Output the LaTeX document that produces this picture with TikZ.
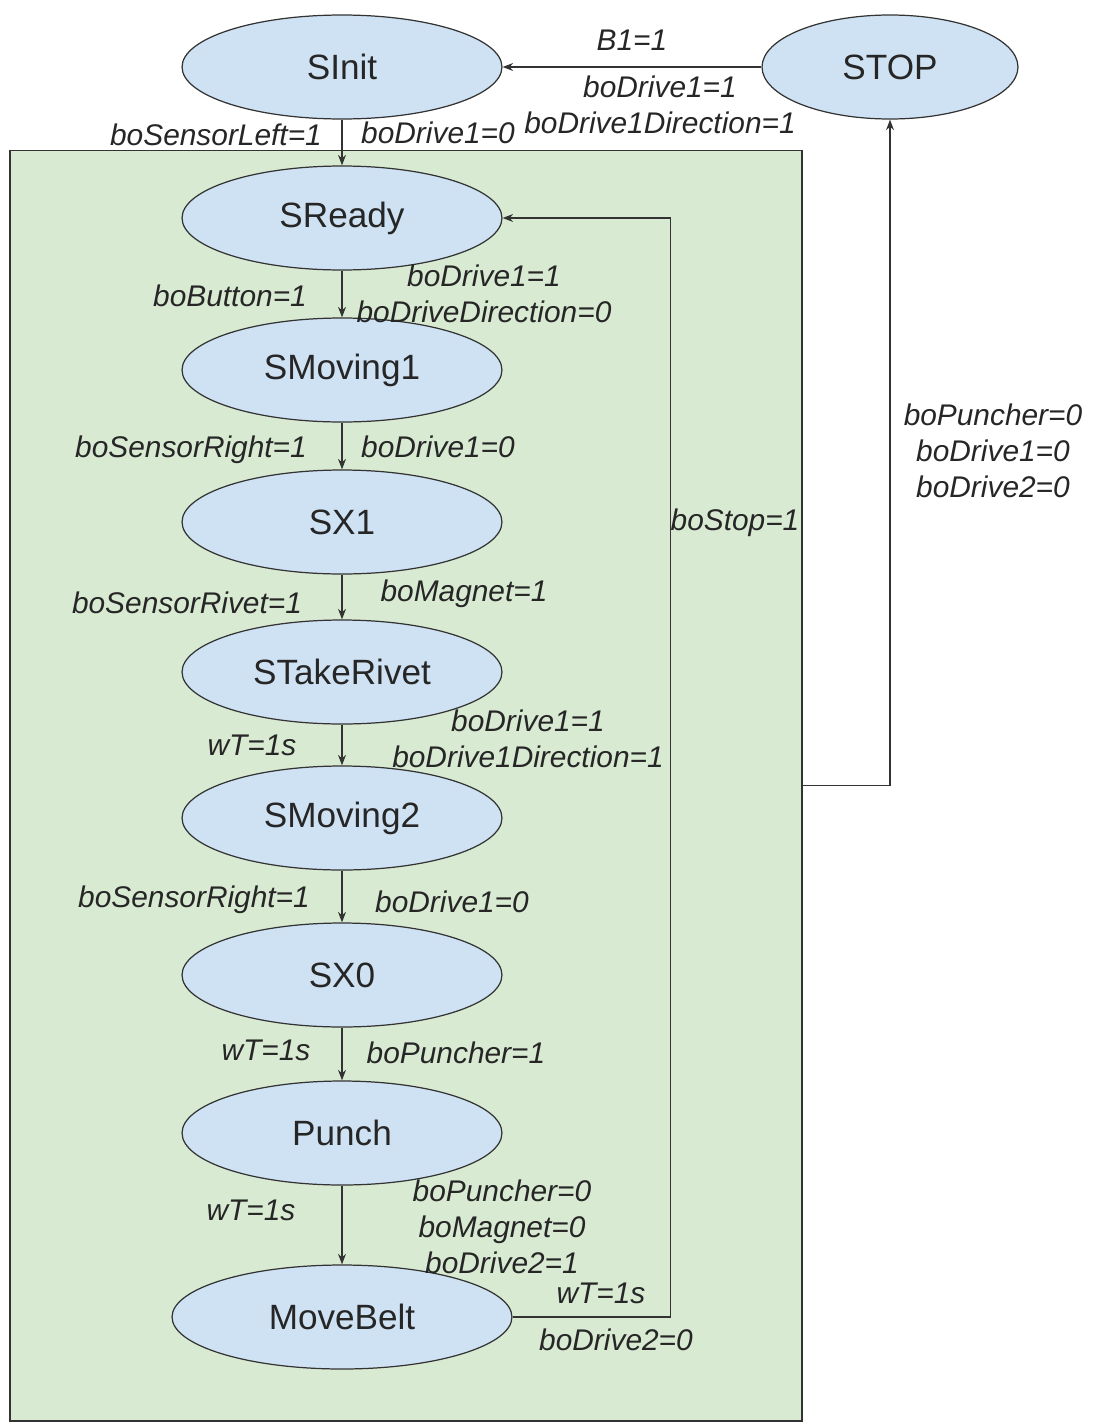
\documentclass[tikz,border=0pt]{standalone}
\usepackage{fontspec}
\setmainfont{Liberation Sans}
\usetikzlibrary{shapes.geometric,arrows.meta}
\definecolor{statefill}{HTML}{CFE2F3}
\definecolor{groupfill}{HTML}{D9EAD3}
\definecolor{lineclr}{HTML}{333333}

\begin{document}
\begin{tikzpicture}[x=0.02cm,y=-0.02cm,
        state/.style={draw=lineclr,ellipse,fill=statefill,line width=0.7pt,
            minimum width=6.4cm,minimum height=2.08cm,inner sep=0,
            font=\fontsize{20}{24}\selectfont,text=black!85},
        lbl/.style={align=center,inner sep=0,text=black!85,
            font=\fontsize{17}{20.4}\selectfont\itshape},
        trans/.style={draw=lineclr,line width=0.7pt,-{Stealth[length=6pt,width=4.5pt]}},
        ]
        \useasboundingbox (0,0) rectangle (1096,1423);
        \node[draw=lineclr,fill=groupfill,line width=0.7pt,minimum width=15.84cm,
            minimum height=25.42cm,inner sep=0] (group) at (406,785.5) {};

        \node[state] (sinit) at (342,67) {SInit};
        \node[state,minimum width=5.12cm] (stop) at (890,67) {STOP};
        \foreach \n/\y/\t in {sready/218/SReady,smoving1/370/SMoving1,sx1/522/SX1,
            stakerivet/672/STakeRivet,smoving2/818/SMoving2,sx0/975/SX0,punch/1133/Punch}{
            \node[state] (\n) at (342,\y) {\t};
        }
        \node[state,minimum width=6.8cm] (movebelt) at (342,1317) {MoveBelt};

        \foreach \a/\b in {sinit/sready,sready/smoving1,smoving1/sx1,sx1/stakerivet,
            stakerivet/smoving2,smoving2/sx0,sx0/punch,punch/movebelt}{
            \draw[trans] (\a) -- (\b);
        }
        \draw[trans] (stop) -- (sinit);
        \draw[trans] (movebelt.east) -- ++(158,0) |- (sready.east);
        \draw[trans] (group.east) -| (stop.south);

        % transition labels
        \node[lbl] (l1) at (632,40) {B1=1};
        \node[lbl] (l2) at (660,105) {boDrive1=1\\boDrive1Direction=1};
        \node[lbl] (l3) at (216,135) {boSensorLeft=1};
        \node[lbl] (l4) at (438,133) {boDrive1=0};
        \node[lbl] (l5) at (230,296) {boButton=1};
        \node[lbl] (l6) at (484,294) {boDrive1=1\\boDriveDirection=0};
        \node[lbl] (l7) at (191,450) {boSensorRight=1};
        \node[lbl] (l8) at (438,447) {boDrive1=0};
        \node[lbl] (l9) at (187,603) {boSensorRivet=1};
        \node[lbl] (l10) at (464,594) {boMagnet=1};
        \node[lbl] (l11) at (252,745) {wT=1s};
        \node[lbl] (l12) at (528,739) {boDrive1=1\\boDrive1Direction=1};
        \node[lbl] (l13) at (194,900) {boSensorRight=1};
        \node[lbl] (l14) at (452,902) {boDrive1=0};
        \node[lbl] (l15) at (266,1050) {wT=1s};
        \node[lbl] (l16) at (456,1053) {boPuncher=1};
        \node[lbl] (l17) at (251,1210) {wT=1s};
        \node[lbl] (l18) at (502,1227) {boPuncher=0\\boMagnet=0\\boDrive2=1};
        \node[lbl] (l19) at (601,1293) {wT=1s};
        \node[lbl] (l20) at (616,1340) {boDrive2=0};
        \node[lbl] (l21) at (735,523) {boStop=1};
        \node[lbl] (l22) at (993,451) {boPuncher=0\\boDrive1=0\\boDrive2=0};
\end{tikzpicture}
\end{document}
